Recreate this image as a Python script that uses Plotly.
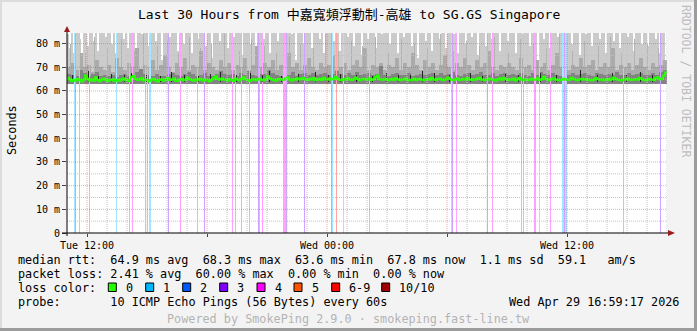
import pandas as pd
import plotly.graph_objects as go

# ---------------- data ----------------
START = pd.Timestamp("2026-04-28 11:00:00")
END = pd.Timestamp("2026-04-29 17:00:00")
Y_MAX = 84.5

# max ping per 6-minute column (values above Y_MAX are clipped by the axis)
max_rtt_ms = [
    84, 78, 90, 76, 90, 90, 82, 74, 90, 90, 79, 90, 90, 81, 90, 77, 90, 90, 90, 83,
    90, 90, 80, 90, 76, 90, 90, 90, 82, 90, 78, 90, 90, 90, 75, 90, 90, 84, 90, 90,
    79, 90, 90, 90, 81, 90, 90, 73, 90, 90, 90, 83, 90, 90, 90, 77, 90, 90, 80, 90,
    90, 90, 76, 90, 90, 82, 90, 90, 90, 79, 90, 90, 74, 90, 90, 90, 81, 90, 90, 90,
    78, 90, 90, 83, 90, 90, 90, 75, 90, 90, 90, 80, 90, 90, 77, 90, 90, 90, 82, 90,
    90, 76, 90, 90, 90, 81, 90, 90, 79, 90, 90, 90, 84, 90, 73, 90, 90, 90, 80, 90,
    90, 90, 78, 90, 90, 90, 82, 90, 76, 90, 90, 90, 90, 81, 90, 90, 77, 90, 90, 90,
    83, 90, 90, 79, 90, 90, 90, 75, 90, 90, 82, 90, 90, 90, 78, 90, 90, 84, 90, 90,
    90, 80, 90, 90, 90, 76, 90, 90, 83, 90, 90, 90, 79, 90, 90, 74, 90, 90, 90, 81,
    90, 90, 77, 90, 90, 90, 82, 90, 90, 78, 90, 90, 90, 84, 90, 76, 90, 90, 90, 80,
    90, 90, 83, 90, 90, 75, 90, 90, 90, 79, 90, 90, 82, 90, 90, 90, 77, 90, 90, 90,
    81, 90, 90, 90, 76, 90, 90, 84, 90, 90, 90, 79, 90, 90, 90, 73, 90, 90, 82, 90,
    90, 78, 90, 90, 90, 83, 90, 90, 77, 90, 90, 90, 80, 90, 90, 90, 75, 90, 90, 84,
    90, 90, 79, 90, 90, 90, 82, 90, 90, 76, 90, 90, 90, 81, 90, 90, 78, 90, 90, 90,
    83, 90, 90, 77, 90, 90, 90, 80, 90, 90, 79, 90, 90, 90, 82, 90, 76, 90, 90, None,
]

# upper ping levels per 12-minute column
mid_rtt_ms = [
    70, 72, 69, 76, 70, 71, 68, 73, 70, 69,
    71, 68, 74, 70, 69, 72, 70, 78, 69, 71,
    70, 73, 69, 71, 75, 70, 68, 72, 70, 74,
    69, 71, 70, 77, 69, 72, 70, 69, 73, 70,
    72, 69, 71, 70, 74, 69, 71, 79, 70, 72,
    70, 73, 69, 71, 70, 76, 70, 72, 69, 71,
    74, 70, 69, 72, 70, 71, 75, 69, 70, 72,
    69, 71, 73, 70, 78, 69, 71, 70, 72, 69,
    71, 70, 74, 69, 72, 70, 76, 71, 69, 73,
    70, 72, 69, 71, 75, 70, 69, 72, 70, 74,
    71, 69, 73, 70, 72, 77, 70, 69, 71, 70,
    72, 70, 69, 74, 70, 71, 69, 73, 70, 72,
    69, 71, 76, 70, 72, 69, 71, 70, 74, 70,
    71, 73, 69, 70, 72, 70, 78, 69, 71, 70,
    72, 69, 71, 74, 70, 69, 72, 70, 71, 73,
]

# thin upper smoke streaks (minutes after start, top in ms)
streak_min = [9, 54, 81, 120, 162, 201, 228, 270, 300, 333, 366, 399, 432, 471, 516, 552, 591, 627, 666, 699,
              738, 774, 813, 852, 885, 924, 963, 1002, 1041, 1080, 1119, 1158, 1197, 1236, 1281, 1323, 1359,
              1398, 1437, 1476, 1515, 1551, 1593, 1629, 1662, 1701, 1740, 1773]
streak_top_ms = [80, 76, 83, 78, 82, 77, 84, 79, 81, 76, 83, 78, 80, 84, 77, 82, 79, 76, 83, 80,
                 78, 84, 77, 81, 79, 83, 76, 82, 80, 78, 84, 77, 81, 79, 83, 76, 82,
                 80, 78, 84, 77, 81, 79, 83, 76, 82, 80, 78]

# ping levels close to the median per 12-minute column
dark_rtt_ms = [
    67.0, 66.6, 66.2, 68.9, 67.4, 66.5, 67.1, 68.2, 66.4, 66.8,
    66.3, 66.9, 66.1, 66.6, 67.3, 66.4, 66.8, 67.9, 69.4, 67.2,
    66.6, 66.3, 67.2, 66.5, 66.2, 67.0, 67.8, 66.6, 66.4, 67.1,
    68.0, 67.0, 66.4, 66.7, 67.6, 66.5, 66.3, 67.1, 68.6, 67.3,
    66.6, 67.1, 66.4, 67.5, 66.8, 68.3, 66.7, 66.3, 67.0, 67.2,
    68.8, 67.6, 66.8, 66.4, 67.2, 66.9, 68.1, 66.5, 67.0, 67.6,
    66.8, 67.4, 66.6, 67.1, 67.8, 66.9, 67.2, 68.3, 67.0, 66.7,
    67.5, 66.9, 68.0, 66.6, 67.0, 67.6, 66.8, 67.2, 70.5, 66.9,
    66.5, 67.0, 67.6, 66.6, 66.9, 67.4, 66.5, 66.8, 67.2, 66.6,
    67.0, 67.8, 66.8, 67.5, 66.6, 67.0, 68.1, 66.9, 66.5, 67.2,
    67.6, 66.8, 67.0, 67.9, 66.6, 66.9, 67.5, 66.5, 67.0, 67.8,
    66.8, 67.2, 66.6, 67.6, 66.9, 66.5, 67.4, 66.8, 68.2, 67.0,
    66.6, 67.5, 66.9, 66.5, 67.2, 66.8, 67.8, 66.6, 67.0, 67.4,
    66.9, 66.5, 67.6, 67.0, 66.6, 67.2, 66.8, 68.0, 66.9, 66.6,
    67.4, 66.8, 67.0, 67.8, 66.6, 66.9, 67.5, 66.8, 68.1, 69.0,
]

# median rtt per 6-minute column
median_ms = [
    65.6, 64.9, 64.2, 64.7, 64.3, 65.1, 64.6, 64.0, 64.8, 66.6, 65.2, 64.4, 64.9, 64.3, 65.8, 64.6, 64.1, 64.7, 65.3, 64.5,
    64.2, 64.8, 64.4, 65.0, 64.1, 64.6, 64.3, 64.9, 65.4, 64.5, 64.8, 64.2, 65.9, 66.4, 65.1, 64.6, 64.9, 65.5, 64.4, 64.8,
    64.5, 64.1, 64.7, 65.2, 64.4, 64.0, 64.6, 65.0, 64.3, 64.8, 65.5, 64.6, 64.9, 65.3, 64.4, 64.2, 64.8, 65.1, 64.5, 64.9,
    65.7, 65.0, 64.6, 64.3, 64.8, 64.5, 65.2, 64.7, 64.3, 64.9, 64.5, 64.1, 64.8, 65.4, 66.2, 65.1, 64.7, 65.3, 64.9, 64.6,
    64.4, 65.0, 64.7, 64.2, 65.3, 64.8, 64.5, 65.1, 65.8, 64.9, 64.6, 64.2, 64.8, 65.0, 64.5, 64.9, 65.2, 64.7, 64.4, 65.0,
    66.2, 65.4, 65.0, 64.6, 64.3, 64.9, 65.1, 64.7, 64.8, 65.3, 65.8, 64.9, 64.4, 65.0, 64.7, 65.4, 64.9, 65.2, 65.6, 64.8,
    64.6, 65.2, 64.9, 65.5, 64.5, 64.9, 65.2, 64.6, 65.6, 65.0, 64.7, 65.3, 64.9, 65.1, 66.0, 65.2, 64.8, 64.5, 65.1, 64.7,
    65.4, 64.9, 64.6, 65.0, 65.7, 65.1, 64.5, 64.9, 65.2, 64.7, 64.9, 65.3, 64.6, 65.0, 65.9, 66.5, 65.0, 64.7, 64.9, 65.2,
    64.5, 64.8, 65.1, 64.6, 65.4, 65.0, 64.5, 64.8, 64.9, 65.3, 64.6, 64.4, 64.8, 65.2, 64.6, 64.9, 65.1, 64.7, 64.5, 64.9,
    65.0, 64.7, 65.5, 64.9, 64.6, 65.1, 65.3, 64.8, 64.5, 64.9, 65.7, 65.2, 64.7, 64.5, 64.9, 65.3, 64.6, 64.8, 65.2, 64.7,
    65.5, 64.9, 64.6, 65.0, 64.8, 65.3, 65.6, 64.9, 64.5, 64.8, 64.7, 65.2, 65.0, 64.6, 64.3, 64.9, 65.3, 64.7, 65.6, 64.9,
    64.6, 65.0, 64.8, 65.3, 64.4, 64.9, 65.5, 64.8, 65.0, 64.6, 64.5, 64.8, 65.2, 64.7, 64.9, 65.4, 64.6, 65.0, 66.0, 65.1,
    64.7, 64.5, 65.0, 65.4, 64.9, 64.6, 64.5, 64.8, 65.2, 64.9, 64.6, 64.8, 65.6, 65.1, 64.7, 64.5, 64.9, 65.2, 64.8, 65.0,
    64.9, 64.6, 64.4, 64.8, 65.5, 65.0, 64.7, 64.9, 64.5, 64.8, 65.1, 64.6, 64.9, 65.7, 65.2, 64.8, 64.6, 64.4, 64.8, 65.0,
    65.3, 64.8, 64.6, 64.9, 65.0, 64.7, 65.6, 65.2, 64.6, 64.4, 64.8, 65.1, 64.9, 64.6, 65.5, 65.8, 64.9, 65.2, 66.4, 67.8,
]
smoke_floor_ms = 62.8

# dark smoke spikes around the median (minutes after start, top in ms)
spike_min = [15, 63, 93, 132, 171, 192, 237, 279, 312, 351, 393, 429, 459, 507, 549, 585, 606, 642, 693, 744, 783,
             819, 867, 915, 957, 993, 1029, 1065, 1101, 1146, 1209, 1245, 1314, 1353, 1419, 1467, 1539, 1590, 1635,
             1677, 1719, 1755]
spike_top_ms = [66.8, 68.4, 66.5, 67.0, 66.6, 67.6, 66.9, 66.4, 68.0, 66.7, 66.5, 67.1, 68.2, 66.6, 67.4, 66.8, 68.6,
                66.5, 67.0, 68.0, 66.6, 67.2, 66.8, 66.5, 67.5, 66.7, 66.9, 68.6, 67.4, 66.6, 67.8, 66.5, 67.3, 66.8,
                67.6, 66.6, 68.8, 66.7, 67.5, 66.9, 67.9, 66.6]
spike_base_ms = 64.0

# packet loss events (minutes after start, loss level, duration in minutes)
loss_min = [21, 24, 36, 66, 147, 186, 195, 234, 240, 246, 303, 339, 390, 411, 495, 504, 522, 546,
            573, 576, 585, 648, 657, 711, 792, 795, 807, 828, 906, 1152, 1155, 1167, 1260,
            1275, 1362, 1368, 1401, 1416, 1449, 1485, 1491, 1494, 1668, 1779]
loss_level = [1, 3, 4, 4, 1, 4, 4, 4, 4, 1, 3, 4, 4, 3, 4, 4, 4, 4,
              3, 4, 4, 4, 3, 3, 3, 1, 6, 1, 4, 1, 3, 4, 3,
              4, 4, 4, 4, 1, 4, 1, 3, 1, 4, 3]
loss_span_min = [3, 3, 3, 3, 3, 3, 3, 3, 3, 6, 3, 3, 3, 3, 3, 3, 3, 3,
                 3, 3, 3, 9, 3, 3, 3, 3, 3, 3, 3, 3, 3, 3, 3,
                 3, 3, 3, 6, 3, 3, 6, 3, 6, 3, 3]
loss_bar_colors = {1: "#a3e6ff", 2: "#a3c4ff", 3: "#cfa3ff", 4: "#ffa3ff", 5: "#ffc2a3", 6: "#ffa3a3"}

loss_labels = ["0", "1", "2", "3", "4", "5", "6-9", "10/10"]
loss_colors = ["#26ff00", "#00b8ff", "#0059ff", "#7e00ff", "#ff00ff", "#ff5500", "#ff0000", "#a10000"]

y_ticks = [0, 10, 20, 30, 40, 50, 60, 70, 80]
y_ticktext = ["0", "10 m", "20 m", "30 m", "40 m", "50 m", "60 m", "70 m", "80 m"]
y_minor = [5, 15, 25, 35, 45, 55, 65, 75]
x_ticks = ["2026-04-28 12:00", "2026-04-28 18:00", "2026-04-29 00:00", "2026-04-29 06:00", "2026-04-29 12:00"]
x_ticktext = ["Tue 12:00", "", "Wed 00:00", "", "Wed 12:00"]

title = "Last 30 Hours from 中嘉寬頻浮動制-高雄 to SG.GS Singapore"
line_rtt = "median rtt:  64.9 ms avg  68.3 ms max  63.6 ms min  67.8 ms now  1.1 ms sd  59.1   am/s"
line_loss = "packet loss: 2.41 % avg  60.00 % max  0.00 % min  0.00 % now"
line_probe = "probe:       10 ICMP Echo Pings (56 Bytes) every 60s"
stamp = "Wed Apr 29 16:59:17 2026"
footer = "Powered by SmokePing 2.9.0 · smokeping.fast-line.tw"
watermark = "RRDTOOL / TOBI OETIKER"

# ---------------- figure ----------------
MONO = "DejaVu Sans Mono, Noto Sans CJK TC, monospace"
W, H = 697, 331
L, R, T, B = 67, 30, 33, 98
PW, PH = W - L - R, H - T - B


def px(x):
    return (x - L) / PW


def py(y):
    return (T + PH - y) / PH


def t(m):
    return START + pd.Timedelta(minutes=m)


def column_bars(step, tops, base, color):
    xs, ys, bs = [], [], []
    for i, v in enumerate(tops):
        if v is None:
            continue
        b = base[i] if isinstance(base, list) else base
        xs.append(t(i * step + step / 2))
        ys.append(v - b)
        bs.append(b)
    return go.Bar(x=xs, y=ys, base=bs, width=step * 60000,
                  marker=dict(color=color, line=dict(width=0)), opacity=1,
                  hoverinfo="skip", showlegend=False)


def thin_bars(mins, tops, base, color, span=3):
    pairs = list(zip(mins, tops))
    return go.Bar(x=[t(m + span / 2) for m, _ in pairs], y=[v - base for _, v in pairs],
                  base=[base for _ in pairs], width=span * 60000,
                  marker=dict(color=color, line=dict(width=0)), opacity=1,
                  hoverinfo="skip", showlegend=False)


fig = go.Figure()
fig.add_trace(column_bars(6, max_rtt_ms, smoke_floor_ms, "#cbcbcb"))
fig.add_trace(thin_bars(streak_min, streak_top_ms, smoke_floor_ms, "#b3b3b3"))
fig.add_trace(column_bars(12, mid_rtt_ms, smoke_floor_ms, "#ababab"))
fig.add_trace(column_bars(12, dark_rtt_ms, smoke_floor_ms + 0.3, "#838383"))

# loss bars
fig.add_trace(go.Bar(
    x=[t(m + s / 2) for m, s in zip(loss_min, loss_span_min)],
    y=[Y_MAX for _ in loss_min], base=[0 for _ in loss_min],
    width=[s * 60000 for s in loss_span_min],
    marker=dict(color=[loss_bar_colors[lv] for lv in loss_level], line=dict(width=0)),
    opacity=1, hoverinfo="skip", showlegend=False))

# dark spikes near the median
fig.add_trace(thin_bars(spike_min, spike_top_ms, spike_base_ms, "#222222"))

# median line
mx = [t(i * 6) for i in range(len(median_ms))] + [t(len(median_ms) * 6)]
my = median_ms + [median_ms[-1]]
fig.add_trace(go.Scatter(x=mx, y=my, mode="lines", line=dict(color="#26ff00", width=2, shape="hv"),
                         hoverinfo="skip", showlegend=False))

# grid (drawn above the smoke, like rrdtool)
GRAY = "#c4c4c4"
RED = "rgba(230,60,60,0.45)"
for v in y_minor:
    fig.add_shape(type="line", xref="x", yref="y", x0=START, x1=END, y0=v, y1=v,
                  line=dict(color=GRAY, width=1, dash="1px,1px"), layer="above")
for v in y_ticks[1:]:
    fig.add_shape(type="line", xref="x", yref="y", x0=START, x1=END, y0=v, y1=v,
                  line=dict(color=RED, width=1, dash="1px,1px"), layer="above")
for h in range(1, 31):
    ts = START + pd.Timedelta(hours=h)
    col = RED if ts.hour % 6 == 0 else GRAY
    fig.add_shape(type="line", xref="x", yref="y", x0=ts, x1=ts, y0=0, y1=Y_MAX,
                  line=dict(color=col, width=1, dash="1px,1px"), layer="above")

# axes lines and arrows
fig.add_shape(type="line", xref="paper", yref="paper", x0=px(62), x1=px(669), y0=py(233), y1=py(233),
              line=dict(color="black", width=1), layer="above")
fig.add_shape(type="line", xref="paper", yref="paper", x0=px(67), x1=px(67), y0=py(236), y1=py(30),
              line=dict(color="black", width=1), layer="above")
fig.add_shape(type="path", xref="paper", yref="paper",
              path=f"M {px(64)} {py(32)} L {px(70)} {py(32)} L {px(67)} {py(26)} Z",
              fillcolor="#9b1c1c", line=dict(width=0), layer="above")
fig.add_shape(type="path", xref="paper", yref="paper",
              path=f"M {px(668)} {py(230)} L {px(668)} {py(236)} L {px(675)} {py(233)} Z",
              fillcolor="#9b1c1c", line=dict(width=0), layer="above")

# frame
fig.add_shape(type="line", xref="paper", yref="paper", x0=px(0), x1=px(697), y0=py(1), y1=py(1),
              line=dict(color="#dcdcdc", width=2))
fig.add_shape(type="line", xref="paper", yref="paper", x0=px(1), x1=px(1), y0=py(0), y1=py(331),
              line=dict(color="#dcdcdc", width=2))
fig.add_shape(type="line", xref="paper", yref="paper", x0=px(0), x1=px(697), y0=py(329.5), y1=py(329.5),
              line=dict(color="#9c9c9c", width=3))
fig.add_shape(type="line", xref="paper", yref="paper", x0=px(695.5), x1=px(695.5), y0=py(0), y1=py(331),
              line=dict(color="#9c9c9c", width=3))

annotations = []


def text(s, x, y, size=11.8, color="black", xanchor="left", angle=0):
    annotations.append(dict(text=s.replace(" ", "\u00a0"), x=px(x), y=py(y), xref="paper", yref="paper",
                            xanchor=xanchor, yanchor="middle", showarrow=False, textangle=angle,
                            font=dict(family=MONO, size=size, color=color)))


text(title, 348.5, 15, size=13, xanchor="center")
text("Seconds", 12, 130, xanchor="center", angle=-90)
text(watermark, 686, 81, size=11.5, color="#bdbdbd", xanchor="center", angle=90)
text(line_rtt, 16, 259.5)
text(line_loss, 16, 273.5)
text("loss color:", 16, 287.5)
box_x = [108.3, 145.7, 182.7, 219.7, 257, 294, 331.7, 381.7]
for bx, lab, colr in zip(box_x, loss_labels, loss_colors):
    fig.add_shape(type="rect", xref="paper", yref="paper", x0=px(bx), x1=px(bx + 8), y0=py(283), y1=py(291.5),
                  fillcolor=colr, line=dict(color="black", width=1))
    text(lab, bx + 15.5, 287.5)
text(line_probe, 16, 301.5)
text(stamp, 681, 301.5, xanchor="right")
text(footer, 348.5, 318.5, color="#b4b4b4", xanchor="center")

fig.update_layout(
    width=W, height=H, margin=dict(l=L, r=R, t=T, b=B, pad=0),
    paper_bgcolor="#f3f3f3", plot_bgcolor="white",
    barmode="overlay", bargap=0, showlegend=False,
    annotations=annotations,
    xaxis=dict(type="date", range=[START, END], tickvals=x_ticks, ticktext=x_ticktext,
               showgrid=False, zeroline=False, showline=False, ticks="outside", ticklen=3,
               tickcolor="#444", tickfont=dict(family=MONO, size=10, color="black"), fixedrange=True),
    yaxis=dict(range=[0, Y_MAX], tickvals=y_ticks, ticktext=y_ticktext,
               showgrid=False, zeroline=False, showline=False, ticks="outside", ticklen=4,
               tickcolor="#444", tickfont=dict(family=MONO, size=10, color="black"), fixedrange=True),
)

fig.write_html("out.html")
